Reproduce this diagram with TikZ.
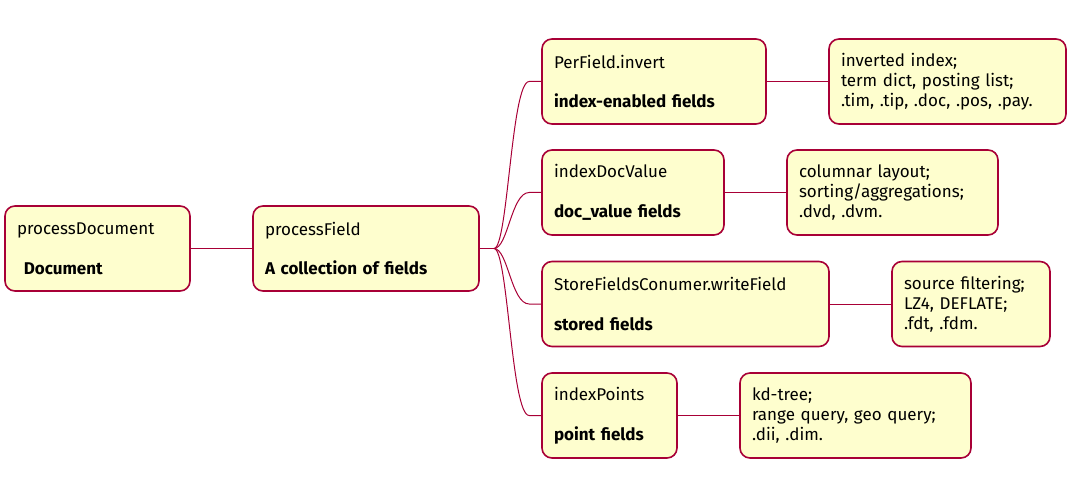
\documentclass[tikz,border=0pt]{standalone}
\usepackage{fontspec}
\setmainfont{Fira Sans}
\usetikzlibrary{calc}
\definecolor{boxfill}{HTML}{FEFECE}
\definecolor{boxline}{HTML}{A80036}
\tikzset{
  mmbox/.style={draw=boxline, fill=boxfill, line width=1.6pt, rounded corners=10pt,
    minimum height=85pt, inner xsep=12pt, inner ysep=0pt, align=left,
    font=\fontsize{17}{19.8}\selectfont},
  link/.style={draw=boxline, line width=1pt}
}
\newcommand{\bx}[4]{\node[mmbox, minimum width=#3pt, text width=#3pt-24pt] (#1) at #2 {#4};}
\begin{document}
\begin{tikzpicture}[x=1pt,y=-1pt]
\useasboundingbox (0,0) rectangle (1085,492);
\bx{pd}{(97.5,248.5)}{185}{processDocument\\[19.8pt]\hspace*{0.4em}\textbf{Document}}
\bx{pf}{(366,248.5)}{226}{processField\\[19.8pt]\textbf{A collection of fields}}
\bx{n1}{(654,81.5)}{224}{PerField.invert\\[19.8pt]\textbf{index-enabled fields}}
\bx{d1}{(947.5,81.5)}{237}{inverted index;\\term dict, posting list;\\.tim, .tip, .doc, .pos, .pay.}
\bx{n2}{(633,192.5)}{182}{indexDocValue\\[19.8pt]\textbf{doc\_value fields}}
\bx{d2}{(892.5,192.5)}{211}{columnar layout;\\sorting/aggregations;\\.dvd, .dvm.}
\bx{n3}{(685.5,304)}{287}{StoreFieldsConumer.writeField\\[19.8pt]\textbf{stored fields}}
\bx{d3}{(971,304)}{158}{source filtering;\\LZ4, DEFLATE;\\.fdt, .fdm.}
\bx{n4}{(609.5,415.5)}{135}{indexPoints\\[19.8pt]\textbf{point fields}}
\bx{d4}{(855.5,415.5)}{231}{kd-tree;\\range query, geo query;\\.dii, .dim.}
\coordinate (k) at (494,248.5);
\draw[link] (pd.east) -- (pf.west);
\draw[link] (pf.east) -- (k);
\foreach \n in {n1,n2,n3,n4}{
  \draw[link] (k) .. controls ($(k)+(14,0)$) and ($(\n.west)+(-30,0)$) .. ($(\n.west)+(-12,0)$) -- (\n.west);
}
\draw[link] (n1.east) -- (d1.west);
\draw[link] (n2.east) -- (d2.west);
\draw[link] (n3.east) -- (d3.west);
\draw[link] (n4.east) -- (d4.west);
\end{tikzpicture}
\end{document}
